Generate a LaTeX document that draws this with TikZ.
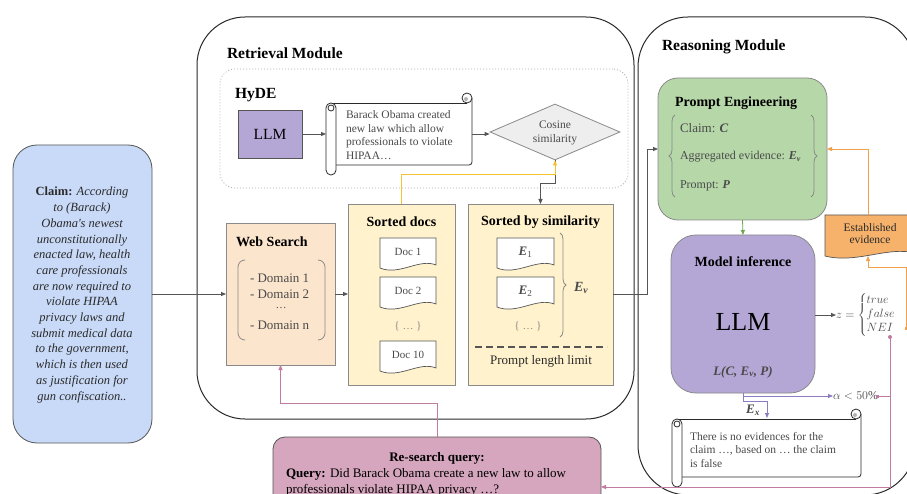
\documentclass[tikz,border=0pt]{standalone}
\usepackage{fontspec}
\setmainfont{Liberation Serif}
\usetikzlibrary{shapes.geometric,arrows.meta,calc,decorations.pathreplacing}
\definecolor{claimblue}{HTML}{C9DAF8}
\definecolor{webpeach}{HTML}{FCE5CD}
\definecolor{docyellow}{HTML}{FFF2CC}
\definecolor{pegreen}{HTML}{B6D7A8}
\definecolor{llmpurple}{HTML}{B4A7D6}
\definecolor{evorange}{HTML}{F6B26B}
\definecolor{rspink}{HTML}{D5A6BD}
\definecolor{lyellow}{HTML}{F2C230}
\definecolor{lorange}{HTML}{F0A04A}
\definecolor{lpink}{HTML}{C27BA0}
\definecolor{lpurple}{HTML}{8E7CC3}
\definecolor{lgreen}{HTML}{6AA84F}
\definecolor{boxgray}{HTML}{8A8A8A}
\definecolor{darkline}{HTML}{555555}
\definecolor{modline}{HTML}{2A2A2A}
\definecolor{textgray}{HTML}{4A4A4A}
\definecolor{diafill}{HTML}{EEEEEE}
\newcommand{\fs}[2]{\fontsize{#1}{#2}\selectfont}
\newcommand{\myEv}{\textbf{\textit{E}}\textsubscript{\textbf{\textit{v}}}}
\newcommand{\mydoc}[7]{%
  \draw[line width=0.7pt, draw=darkline, fill=#6] (#2,#3) -- (#4,#3) -- (#4,#5-5) .. controls ({#4-0.3*(#4-#2)},#5-12) and ({#2+0.35*(#4-#2)},#5+6) .. (#2,#5-2) -- cycle;
  \node[inner sep=0pt, text=textgray] (#1) at ({(#2+#4)/2},{(#3+#5)/2-2}) {#7};
}
\newcommand{\myscroll}[5]{%
  \fill[white] (#2+5,#3) -- (#4-5,#3) -- (#4,#3-5) -- (#4,#5) -- (#2+5,#5) -- cycle;
  \draw[scrl] (#2+5,#3) -- (#4-5,#3);
  \draw[scrl, rounded corners=3pt] (#4,#3-5) -- (#4,#5) -- (#2+10,#5);
  \draw[scrl, fill=white] (#4-5,#3-5) circle[radius=5pt];
  \fill[gray!60] (#4-6,#3-4) circle[radius=2pt];
  \draw[scrl, fill=white, rounded corners=4.9pt] (#2,#3) rectangle (#2+10,#5+10);
  \draw[scrl] (#2+5,#3+5) circle[radius=3pt];
  \node[inner sep=0pt, outer sep=0pt, minimum width={(#4-#2)*1pt}, minimum height={(#5-#3)*1pt}] (#1) at ({(#2+#4)/2},{(#3+#5)/2}) {};
}
\tikzset{
  box/.style={line width=0.8pt, inner sep=0pt, outer sep=0pt, anchor=north west},
  scrl/.style={draw=modline, line width=0.8pt},
  txt/.style={inner sep=0pt, outer sep=0pt},
  arr/.style={-{Triangle[length=5pt,width=4pt]}, line width=0.8pt},
  gline/.style={arr, draw=darkline},
  brc/.style={decorate, decoration={brace, amplitude=6pt}, draw=boxgray, line width=0.8pt},
}
\begin{document}
\begin{tikzpicture}[x=1pt,y=-1pt]
\useasboundingbox (0,0) rectangle (907,494);
\clip (0,0) rectangle (907,494);
\fill[white] (0,0) rectangle (907,494);

% modules
\node[box, draw=modline, line width=1pt, rounded corners=48pt, minimum width=437pt, minimum height=402pt] (ret) at (197,17) {};
\node[box, draw=modline, line width=1pt, rounded corners=50pt, minimum width=277pt, minimum height=478pt] (rea) at (638,17) {};
\node[txt, anchor=west, font=\fs{15.5}{18}\bfseries] (rett) at (227,53) {Retrieval Module};
\node[txt, anchor=west, font=\fs{15.5}{18}\bfseries] (reat) at (662,47) {Reasoning Module};

% claim
\node[box, draw=darkline, fill=claimblue, rounded corners=24pt, minimum width=139pt, minimum height=298pt] (claim) at (13,145) {};
\node[txt, align=center, text=modline, font=\fs{12.5}{15.7}\itshape] (claimt) at (82,295) {\textbf{\upshape Claim:} According\\to (Barack)\\Obama\textquotesingle s newest\\unconstitutionally\\enacted law, health\\care professionals\\are now required to\\violate HIPAA\\privacy laws and\\submit medical data\\to the government,\\which is then used\\as justification for\\gun confiscation..};

% HyDE
\node[box, draw=gray!60, dash pattern=on 1pt off 2pt, rounded corners=15pt, minimum width=408pt, minimum height=119pt] (hyde) at (220,69) {};
\node[txt, anchor=west, font=\fs{15.5}{18}\bfseries] (hydet) at (235,95) {HyDE};
\node[box, draw=darkline, fill=llmpurple, minimum width=64pt, minimum height=48pt] (llm1) at (238,110) {};
\node[txt, font=\fs{15.5}{18}] at (llm1.center) {LLM};
\myscroll{sc1}{326}{103}{472}{165}
\node[txt, anchor=west, align=left, text=textgray, font=\fs{11.5}{13.5}] (sc1t) at (346,135) {Barack Obama created\\new law which allow\\professionals to violate\\HIPAA\ldots};
\node[diamond, draw=boxgray, fill=diafill, minimum width=130pt, minimum height=56pt, inner sep=0pt, line width=0.8pt] (cos) at (555,132) {};
\node[txt, align=center, text=textgray, font=\fs{11.5}{13.5}] at (555,133) {Cosine\\similarity};
\draw[gline] (llm1.east) -- (llm1.east -| sc1.west);
\draw[gline] (sc1.east) -- (sc1.east -| cos.west);

% web search
\node[box, draw=boxgray, fill=webpeach, minimum width=109pt, minimum height=142pt] (ws) at (226,223) {};
\node[txt, anchor=west, font=\fs{14}{16}\bfseries] (wst) at (236,242) {Web Search};
\node[txt, anchor=west, text=textgray, font=\fs{13}{15}] (d1) at (250,278) {- Domain 1};
\node[txt, anchor=west, text=textgray, font=\fs{13}{15}] (d2) at (250,294) {- Domain 2};
\node[txt, text=textgray, font=\fs{11}{13}] (d3) at (281,308) {\ldots};
\node[txt, anchor=west, text=textgray, font=\fs{13}{15}] (dn) at (250,325) {- Domain n};
\draw[draw=boxgray, line width=0.8pt, rounded corners=7pt] (245,260) -- (238,260) -- (238,340) -- (245,340);
\draw[draw=boxgray, line width=0.8pt, rounded corners=7pt] (318,260) -- (325,260) -- (325,340) -- (318,340);

% sorted docs
\node[box, draw=boxgray, fill=docyellow, minimum width=107pt, minimum height=181pt] (sd) at (348,204) {};
\node[txt, font=\fs{14}{16}\bfseries] (sdt) at (401.5,222) {Sorted docs};
\mydoc{doc1}{380}{238}{436}{270}{white}{\fs{11}{13}Doc 1}
\mydoc{doc2}{380}{277}{436}{309}{white}{\fs{11}{13}Doc 2}
\node[txt, text=boxgray, font=\fs{11}{13}] (dd) at (408,326) {\{ \ldots\ \}};
\mydoc{doc10}{380}{341}{436}{373}{white}{\fs{11}{13}Doc 10}

% sorted by similarity
\node[box, draw=boxgray, fill=docyellow, minimum width=145pt, minimum height=181pt] (ss) at (468,204) {};
\node[txt, font=\fs{14}{16}\bfseries] (sst) at (540.5,222) {Sorted by similarity};
\mydoc{e1}{497}{238}{554}{270}{white}{\fs{13}{15}\textbf{\textit{E}}\textsubscript{1}}
\mydoc{e2}{497}{277}{554}{309}{white}{\fs{13}{15}\textbf{\textit{E}}\textsubscript{2}}
\node[txt, text=boxgray, font=\fs{11}{13}] (ed) at (528,326) {\{ \ldots\ \}};
\draw[brc] (560,233) -- (560,337);
\node[txt, anchor=west, text=textgray, font=\fs{14}{16}] (evl) at (574,288) {\myEv};
\draw[draw=darkline, line width=1.6pt, dash pattern=on 7pt off 4pt] (475,347) -- (607,347);
\node[txt, text=modline, font=\fs{13}{15}] (plim) at (541,361) {Prompt length limit};

% connectors retrieval
\draw[gline] (claim.east |- ws.west) -- (ws.west);
\draw[gline] (ws.east) -- (ws.east -| sd.west);
\draw[gline] (cos.south) -- (cos.south |- 0,183) -| (ss.north);
\draw[arr, draw=lyellow, line width=1pt] (sd.north) -- (sd.north |- 0,175) -| (cos.south);
\draw[gline] (ss.east) -- ++(34,0) coordinate (bend1) |- (658,149);

% prompt engineering
\node[box, draw=boxgray, fill=pegreen, rounded corners=20pt, minimum width=169pt, minimum height=142pt] (pe) at (658,78) {};
\node[txt, anchor=west, font=\fs{14}{16}\bfseries] (pet) at (675,103) {Prompt Engineering};
\draw[brc] (675,197) -- (675,115);
\draw[brc] (811,115) -- (811,197);
\node[txt, anchor=west, text=textgray, font=\fs{13}{15}] (pe1) at (680,128) {Claim: \textbf{\textit{C}}};
\node[txt, anchor=west, text=textgray, font=\fs{12}{14}] (pe2) at (680,157) {Aggregated evidence: \myEv};
\node[txt, anchor=west, text=textgray, font=\fs{12}{14}] (pe3) at (680,186) {Prompt: \textbf{\textit{P}}};

% model inference
\node[box, draw=boxgray, fill=llmpurple, rounded corners=25pt, minimum width=144pt, minimum height=158pt] (mi) at (671,235) {};
\node[txt, font=\fs{14}{16}\bfseries] (mit) at (743,262) {Model inference};
\node[txt, font=\fs{26}{30}] (mil) at (743,322) {LLM};
\node[txt, text=textgray, font=\fs{13}{15}\bfseries\itshape] (mif) at (743,372) {L(C, E\textsubscript{v}, P)};
\draw[arr, draw=lgreen] (pe.south) -- (mi.north);

% outputs
\node[txt, anchor=west, text=textgray, font=\fs{12}{14}] (zz) at (836,315) {$z=\left\{\begin{array}{@{}l@{}}true\\ false\\ NEI\end{array}\right.$};
\draw[gline] (mi.east |- zz.west) -- (zz.west);
\node[txt, anchor=west, text=textgray, font=\fs{12}{14}] (al) at (833,396) {$\alpha<50\%$};

% established evidence
\mydoc{ee}{825}{215}{915}{258}{evorange}{\fs{11.5}{13.5}\color{modline}\begin{tabular}{@{}c@{}}Established\\[-1.5pt]evidence\end{tabular}}
\coordinate (eetop) at (868,215);
\coordinate (eebot) at (868,256);
\draw[arr, draw=lorange] (eetop) |- (pe.east);
\coordinate (zo) at (906,328);
\draw[arr, draw=lorange] (zo) |- (868,267) -- (eebot);
\fill[lorange] (904.5,326.5) rectangle (907.5,329.5);

% bottom scroll
\myscroll{sc2}{672}{419}{861}{477}
\node[txt, anchor=west, align=left, text=textgray, font=\fs{11.5}{13.5}] (sc2t) at (690,450) {There is no evidences for the\\claim \ldots, based on \ldots\ the claim\\is false};
\coordinate (sc2top) at (767,418);
\draw[arr, draw=lpurple] (mi.south) |- (al.west);
\draw[arr, draw=lpurple] (mi.south) -- ++(0,8) -| (sc2top);
\node[txt, text=textgray, font=\fs{13}{15}] (exl) at (753,410) {\textbf{\textit{E}}\textsubscript{\textbf{\textit{x}}}};

% re-search query
\node[box, draw=darkline, fill=rspink, rounded corners=12pt, minimum width=328pt, minimum height=90pt] (rs) at (273,437) {};
\node[txt, font=\fs{13}{15}\bfseries] (rst) at (437,458) {Re-search query:};
\node[txt, anchor=west, font=\fs{13}{15}] (rsq) at (286,474) {\textbf{Query:} Did Barack Obama create a new law to allow};
\node[txt, anchor=west, font=\fs{13}{15}] (rsq2) at (286,490) {professionals violate HIPAA privacy \ldots?};

% pink connectors
\coordinate (zp) at (890,337);
\draw[arr, draw=lpink] (zp) |- ($(rs.north east)+(0,50)$);
\draw[draw=lpink, line width=0.8pt] (890,396) -- (877,396);
\fill[lpink] (875.5,394.5) rectangle (878.5,397.5);
\fill[lpink] (zp) circle[radius=2pt];
\draw[arr, draw=lpink] (rs.north) -- (rs.north |- 0,403) -| (ws.south);
\end{tikzpicture}
\end{document}
